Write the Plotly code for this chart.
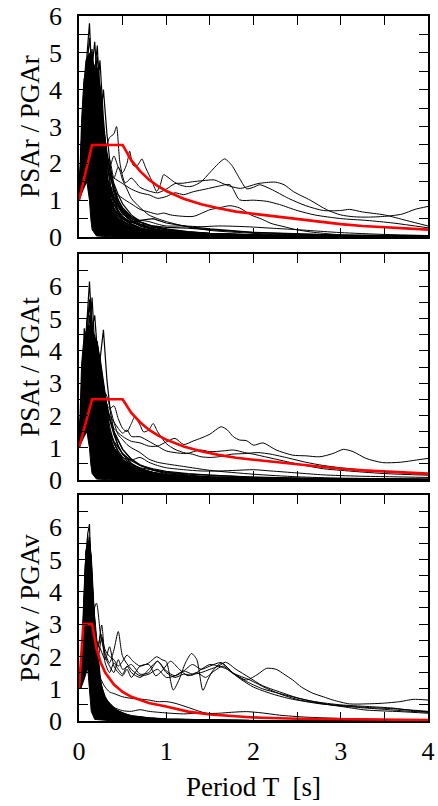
import plotly.graph_objects as go

FONT = "Liberation Serif, Times New Roman, serif"

# ---- design spectra (red) ----
red_T_h = [0, 0.15, 0.5, 0.6, 0.7, 0.8, 0.9, 1.0, 1.2, 1.4, 1.6, 1.8, 2.0, 2.25, 2.5, 2.75, 3.0, 3.25, 3.5, 3.75, 4.0]
red_v_h = [1, 2.5, 2.5, 2.08, 1.79, 1.56, 1.39, 1.25, 1.04, 0.89, 0.78, 0.69, 0.63, 0.56, 0.5, 0.41, 0.35, 0.30, 0.26, 0.22, 0.2]
red_T_v = [0, 0.05, 0.15, 0.2, 0.25, 0.3, 0.4, 0.5, 0.6, 0.8, 1.0, 1.25, 1.5, 2.0, 2.5, 3.0, 3.5, 4.0]
red_v_v = [1, 3, 3, 2.25, 1.8, 1.5, 1.13, 0.9, 0.75, 0.56, 0.45, 0.29, 0.2, 0.11, 0.07, 0.05, 0.04, 0.03]

# ---- dense cores of overlapping records (solid black in the figure) ----
core_r_upT = [0.0, 0.01, 0.03, 0.05, 0.08, 0.12, 0.2, 0.25, 0.28, 0.3, 0.34, 0.39, 0.5, 0.66, 0.9, 1.3]
core_r_up = [1.0, 1.8, 3.2, 4.0, 4.8, 5.0, 4.5, 4.0, 3.0, 2.3, 1.37, 0.65, 0.35, 0.2, 0.08, 0.03]
core_r_loT = [0.0, 0.05, 0.09, 0.12, 0.135, 0.15, 0.2, 0.4, 1.3]
core_r_lo = [1.0, 1.3, 1.5, 1.0, 0.5, 0.2, 0.03, 0.0, 0.0]

core_t_upT = [0.0, 0.01, 0.03, 0.05, 0.08, 0.12, 0.16, 0.22, 0.26, 0.3, 0.34, 0.38, 0.5, 0.7, 1.0, 1.4]
core_t_up = [1.0, 2.0, 3.6, 4.2, 4.6, 4.8, 4.6, 4.1, 3.4, 2.6, 1.7, 1.1, 0.55, 0.25, 0.1, 0.04]
core_t_loT = [0.0, 0.05, 0.09, 0.12, 0.135, 0.15, 0.2, 0.4, 1.4]
core_t_lo = [1.0, 1.3, 1.5, 1.0, 0.5, 0.2, 0.03, 0.0, 0.0]

core_v_upT = [0.02, 0.03, 0.05, 0.07, 0.09, 0.12, 0.14, 0.16, 0.2, 0.25, 0.3, 0.43, 0.6, 1.0, 1.5]
core_v_up = [1.0, 2.0, 3.5, 4.8, 5.4, 5.6, 5.0, 3.8, 2.6, 1.2, 0.7, 0.34, 0.15, 0.05, 0.02]
core_v_loT = [0.02, 0.06, 0.1, 0.12, 0.14, 0.18, 0.4, 1.5]
core_v_lo = [1.0, 1.3, 1.64, 0.9, 0.3, 0.05, 0.0, 0.0]

# ---- panel 1: PSAr / PGAr ----
grid_r = [0, .03, .06, .09, .12, .15, .18, .21, .24, .28, .32, .36, .40, .45, .50, .60, .70, .85, 1.0, 1.25, 1.5, 2.0, 2.5, 3.0, 4.0]
short_r = [
    [1, 2.0, 3.4, 4.9, 5.8, 4.2, 3.1, 2.2, 1.6, 1.1, 0.8, 0.6, 0.45, 0.35, 0.28, 0.18, 0.12, 0.08, 0.05, 0.03, 0.02, 0.01, 0.01, 0.01, 0.0],
    [1, 1.7, 2.6, 3.2, 4.6, 5.1, 3.8, 2.6, 1.9, 1.3, 0.9, 0.7, 0.55, 0.4, 0.3, 0.2, 0.14, 0.09, 0.06, 0.04, 0.03, 0.02, 0.01, 0.01, 0.0],
    [1, 2.3, 3.6, 4.2, 3.6, 4.4, 3.2, 2.0, 1.4, 1.0, 0.7, 0.5, 0.4, 0.3, 0.22, 0.15, 0.1, 0.07, 0.05, 0.03, 0.02, 0.01, 0.01, 0.0, 0.0],
    [1, 1.8, 2.9, 3.6, 4.8, 3.9, 4.5, 5.2, 3.6, 2.4, 1.6, 1.1, 0.8, 0.6, 0.45, 0.3, 0.2, 0.13, 0.09, 0.06, 0.04, 0.02, 0.02, 0.01, 0.01],
    [1, 2.1, 2.9, 3.1, 3.9, 4.3, 3.7, 4.0, 4.8, 3.2, 2.1, 1.4, 1.0, 0.7, 0.55, 0.35, 0.25, 0.16, 0.11, 0.07, 0.05, 0.03, 0.02, 0.01, 0.01],
    [1, 1.6, 2.3, 2.4, 3.3, 4.0, 3.4, 3.9, 3.1, 4.0, 2.8, 1.9, 1.3, 0.9, 0.7, 0.45, 0.3, 0.2, 0.14, 0.09, 0.06, 0.03, 0.02, 0.01, 0.01],
    [1, 2.6, 4.2, 4.4, 3.2, 2.5, 1.8, 1.3, 0.9, 0.6, 0.45, 0.35, 0.28, 0.2, 0.15, 0.1, 0.07, 0.05, 0.03, 0.02, 0.01, 0.01, 0.0, 0.0, 0.0],
    [1, 1.9, 2.7, 2.9, 3.8, 3.2, 2.9, 3.5, 2.7, 1.9, 1.5, 1.2, 0.9, 0.65, 0.5, 0.33, 0.22, 0.15, 0.1, 0.06, 0.04, 0.02, 0.01, 0.01, 0.0],
    [1, 1.5, 2.1, 2.0, 2.8, 3.5, 4.1, 3.3, 2.6, 2.9, 2.2, 1.7, 1.2, 0.9, 0.65, 0.42, 0.3, 0.19, 0.13, 0.08, 0.05, 0.03, 0.02, 0.01, 0.01],
    [1, 2.0, 3.0, 3.3, 4.2, 4.7, 3.5, 2.4, 2.8, 2.0, 1.3, 0.95, 0.7, 0.5, 0.38, 0.25, 0.17, 0.11, 0.08, 0.05, 0.03, 0.02, 0.01, 0.01, 0.0],
    [1, 1.7, 2.5, 2.7, 3.4, 3.0, 3.6, 2.8, 2.1, 1.6, 1.2, 1.0, 0.85, 0.7, 0.55, 0.4, 0.32, 0.25, 0.2, 0.14, 0.1, 0.06, 0.04, 0.03, 0.02],
    [1, 2.2, 3.3, 3.7, 4.1, 3.4, 2.6, 1.9, 1.5, 1.3, 1.1, 0.9, 0.75, 0.62, 0.5, 0.4, 0.35, 0.3, 0.26, 0.24, 0.2, 0.12, 0.08, 0.05, 0.03],
    [1, 1.8, 2.7, 3.0, 3.7, 4.3, 3.8, 3.0, 2.3, 1.8, 1.5, 1.3, 1.1, 0.9, 0.75, 0.55, 0.45, 0.5, 0.38, 0.28, 0.22, 0.13, 0.08, 0.05, 0.03],
    [1, 2.5, 3.8, 3.9, 3.3, 2.7, 2.3, 1.9, 1.7, 1.5, 1.35, 1.2, 1.0, 0.85, 0.7, 0.5, 0.4, 0.3, 0.22, 0.15, 0.1, 0.06, 0.04, 0.03, 0.02],
    [1, 1.5, 2.2, 2.2, 2.9, 3.6, 4.4, 3.9, 3.3, 2.6, 2.0, 1.6, 1.3, 1.0, 0.8, 0.55, 0.4, 0.28, 0.2, 0.13, 0.09, 0.05, 0.03, 0.02, 0.01],
    [1, 2.0, 3.2, 3.5, 4.5, 5.0, 4.1, 3.2, 2.4, 1.7, 1.2, 0.9, 0.65, 0.48, 0.36, 0.24, 0.16, 0.1, 0.07, 0.05, 0.03, 0.02, 0.01, 0.01, 0.0],
    [1, 1.4, 2.0, 1.9, 2.6, 3.2, 3.9, 4.6, 3.8, 3.0, 2.3, 1.8, 1.4, 1.0, 0.75, 0.5, 0.35, 0.22, 0.15, 0.1, 0.06, 0.04, 0.02, 0.01, 0.01],
    [1, 2.4, 3.8, 4.6, 5.4, 4.6, 3.3, 2.3, 1.7, 1.2, 0.9, 0.7, 0.55, 0.42, 0.32, 0.2, 0.14, 0.09, 0.06, 0.04, 0.03, 0.02, 0.01, 0.01, 0.0],
    [1, 2.8, 4.3, 3.0, 3.8, 3.3, 2.7, 2.1, 1.6, 1.2, 0.95, 0.75, 0.6, 0.48, 0.4, 0.3, 0.23, 0.17, 0.12, 0.08, 0.06, 0.03, 0.02, 0.01, 0.01],
    [1, 1.8, 2.6, 3.1, 4.0, 4.6, 5.3, 4.2, 3.1, 2.2, 1.5, 1.05, 0.75, 0.55, 0.42, 0.28, 0.2, 0.13, 0.09, 0.06, 0.04, 0.02, 0.01, 0.01, 0.0],
    [1, 2.2, 3.3, 3.4, 3.0, 3.7, 3.1, 2.6, 2.2, 1.8, 1.5, 1.25, 1.0, 0.8, 0.62, 0.44, 0.32, 0.22, 0.15, 0.1, 0.07, 0.04, 0.02, 0.01, 0.01],
    [1, 1.6, 2.3, 2.5, 3.1, 3.8, 4.3, 4.9, 4.1, 2.9, 2.0, 1.4, 1.0, 0.72, 0.55, 0.36, 0.25, 0.16, 0.11, 0.07, 0.05, 0.03, 0.02, 0.01, 0.01],
    [1, 2.6, 3.9, 2.6, 3.4, 2.8, 2.2, 1.7, 1.3, 0.95, 0.7, 0.52, 0.4, 0.3, 0.23, 0.15, 0.1, 0.07, 0.05, 0.03, 0.02, 0.01, 0.01, 0.0, 0.0],
    [1, 2.0, 2.9, 3.0, 3.6, 4.0, 3.5, 3.0, 3.4, 2.7, 2.2, 1.8, 1.45, 1.15, 0.9, 0.6, 0.42, 0.28, 0.19, 0.12, 0.08, 0.04, 0.03, 0.02, 0.01],
    [1, 2.4, 4.0, 4.6, 4.0, 3.4, 2.6, 1.9, 1.4, 1.0, 0.75, 0.58, 0.46, 0.36, 0.28, 0.19, 0.13, 0.09, 0.06, 0.04, 0.03, 0.02, 0.01, 0.01, 0.0],
    [1, 1.7, 2.6, 2.8, 3.6, 3.2, 3.9, 3.3, 2.5, 1.9, 1.6, 1.35, 1.1, 0.85, 0.65, 0.45, 0.33, 0.23, 0.17, 0.12, 0.09, 0.05, 0.03, 0.02, 0.01],
]
long_r = [
    ([0, 0.05, 0.1, 0.15, 0.2, 0.25, 0.3, 0.35, 0.4, 0.45, 0.5, 0.55, 0.58, 0.62, 0.66, 0.7, 0.72, 0.77, 0.83, 0.89, 0.93, 0.97, 1.02, 1.08, 1.15, 1.23, 1.3, 1.4, 1.5, 1.6, 1.67, 1.75, 1.85, 1.92, 2.0, 2.07, 2.2, 2.4, 2.6, 2.8, 3.0, 3.1, 3.25, 3.5, 3.75, 4.0],
     [1, 2.0, 3.9, 3.2, 2.8, 2.5, 2.1, 1.9, 2.2, 1.9, 1.75, 2.0, 2.33, 1.95, 1.92, 2.05, 2.12, 1.85, 1.55, 1.24, 1.4, 1.69, 1.62, 1.51, 1.42, 1.37, 1.38, 1.5, 1.75, 2.0, 2.12, 1.95, 1.55, 1.31, 1.35, 1.42, 1.3, 1.05, 0.85, 0.72, 0.72, 0.75, 0.68, 0.6, 0.45, 0.3]),
    ([0, 0.05, 0.1, 0.15, 0.2, 0.25, 0.3, 0.35, 0.4, 0.43, 0.47, 0.53, 0.6, 0.7, 0.8, 0.9, 1.0, 1.1, 1.19, 1.3, 1.42, 1.55, 1.65, 1.73, 1.85, 1.95, 2.05, 2.15, 2.25, 2.35, 2.46, 2.65, 2.84, 3.0, 3.15, 3.3, 3.5, 3.7, 3.85, 4.0],
     [1, 1.8, 3.4, 4.0, 3.3, 2.6, 2.4, 2.7, 2.8, 3.0, 2.0, 1.47, 1.6, 1.35, 1.25, 1.2, 1.3, 1.45, 1.46, 1.5, 1.53, 1.55, 1.45, 1.38, 1.32, 1.38, 1.45, 1.48, 1.49, 1.42, 1.23, 1.0, 0.74, 0.6, 0.55, 0.54, 0.56, 0.62, 0.75, 0.83]),
    ([0, 0.05, 0.1, 0.15, 0.2, 0.25, 0.3, 0.35, 0.4, 0.5, 0.6, 0.7, 0.81, 0.9, 1.0, 1.1, 1.2, 1.31, 1.45, 1.6, 1.73, 1.84, 2.0, 2.15, 2.3, 2.5, 2.7, 3.0, 3.3, 3.6, 4.0],
     [1, 1.5, 2.9, 3.6, 3.0, 2.3, 1.9, 1.7, 1.6, 1.45, 1.3, 1.2, 1.14, 1.05, 1.1, 1.2, 1.15, 1.23, 1.3, 1.38, 1.42, 1.01, 1.0, 0.97, 0.88, 0.72, 0.6, 0.5, 0.45, 0.38, 0.25]),
    ([0, 0.05, 0.1, 0.15, 0.2, 0.25, 0.3, 0.4, 0.5, 0.6, 0.7, 0.8, 0.9, 0.97, 1.05, 1.15, 1.31, 1.5, 1.62, 1.73, 1.84, 1.97, 2.1, 2.2, 2.35, 2.49, 2.65, 2.8, 3.0, 3.5, 4.0],
     [1, 1.6, 3.0, 3.3, 2.6, 2.0, 1.6, 1.25, 1.05, 0.9, 0.75, 0.68, 0.62, 0.65, 0.6, 0.57, 0.56, 0.74, 0.8, 0.85, 0.79, 0.6, 0.48, 0.37, 0.28, 0.2, 0.14, 0.1, 0.06, 0.03, 0.02]),
    ([0, 0.05, 0.1, 0.15, 0.2, 0.3, 0.4, 0.5, 0.6, 0.7, 0.8, 0.9, 1.0, 1.2, 1.4, 1.6, 1.8, 2.0, 2.2, 2.5, 2.8, 3.0, 3.5, 4.0],
     [1, 1.5, 2.7, 3.1, 2.2, 1.2, 0.7, 0.48, 0.4, 0.45, 0.42, 0.35, 0.3, 0.3, 0.28, 0.3, 0.29, 0.27, 0.24, 0.2, 0.15, 0.12, 0.07, 0.04]),
    ([0, 0.05, 0.1, 0.15, 0.2, 0.25, 0.3, 0.35, 0.4, 0.45, 0.5, 0.55, 0.6, 0.7, 0.8, 0.9, 1.0, 1.2, 1.5, 2.0, 2.5, 3.0, 4.0],
     [1, 1.7, 3.1, 2.8, 2.4, 2.0, 1.75, 2.1, 1.6, 1.9, 1.55, 1.3, 1.05, 0.8, 0.6, 0.5, 0.42, 0.3, 0.18, 0.1, 0.06, 0.04, 0.02]),
]

# ---- panel 2: PSAt / PGAt ----
grid_t = grid_r
short_t = [
    [1, 2.1, 3.6, 4.8, 6.15, 4.6, 3.2, 2.3, 1.6, 1.1, 0.8, 0.6, 0.45, 0.35, 0.27, 0.18, 0.12, 0.08, 0.05, 0.03, 0.02, 0.01, 0.01, 0.0, 0.0],
    [1, 2.6, 4.7, 3.6, 4.2, 3.5, 2.6, 1.9, 1.4, 1.0, 0.75, 0.55, 0.42, 0.32, 0.25, 0.16, 0.11, 0.07, 0.05, 0.03, 0.02, 0.01, 0.0, 0.0, 0.0],
    [1, 1.9, 3.0, 3.8, 4.5, 5.65, 4.1, 3.0, 2.2, 1.5, 1.1, 0.8, 0.6, 0.45, 0.35, 0.22, 0.15, 0.1, 0.07, 0.04, 0.03, 0.02, 0.01, 0.01, 0.0],
    [1, 1.7, 2.6, 3.0, 3.8, 3.4, 3.9, 4.2, 3.7, 4.65, 3.1, 2.1, 1.5, 1.05, 0.8, 0.5, 0.34, 0.22, 0.15, 0.09, 0.06, 0.03, 0.02, 0.01, 0.01],
    [1, 2.3, 3.7, 4.3, 3.9, 4.4, 3.6, 2.7, 2.0, 1.45, 1.05, 0.8, 0.62, 0.48, 0.38, 0.26, 0.18, 0.12, 0.08, 0.05, 0.03, 0.02, 0.01, 0.01, 0.0],
    [1, 2.0, 3.2, 4.0, 5.1, 4.3, 3.3, 2.5, 1.9, 1.4, 1.0, 0.75, 0.55, 0.4, 0.3, 0.2, 0.13, 0.09, 0.06, 0.04, 0.02, 0.01, 0.01, 0.0, 0.0],
    [1, 1.6, 2.4, 2.6, 3.5, 4.1, 3.7, 4.3, 3.3, 2.5, 1.8, 1.3, 0.95, 0.7, 0.52, 0.34, 0.23, 0.15, 0.1, 0.06, 0.04, 0.02, 0.01, 0.01, 0.0],
    [1, 2.4, 3.9, 4.1, 3.3, 2.6, 2.0, 1.6, 1.3, 1.0, 0.8, 0.65, 0.52, 0.4, 0.32, 0.22, 0.15, 0.1, 0.07, 0.04, 0.03, 0.02, 0.01, 0.0, 0.0],
    [1, 1.8, 2.9, 3.4, 4.4, 3.8, 3.2, 3.6, 2.9, 2.2, 1.7, 1.3, 1.0, 0.8, 0.62, 0.42, 0.3, 0.2, 0.14, 0.09, 0.06, 0.03, 0.02, 0.01, 0.01],
    [1, 2.1, 3.4, 3.7, 4.0, 4.8, 3.7, 2.8, 2.1, 1.6, 1.3, 1.05, 0.85, 0.68, 0.55, 0.4, 0.3, 0.22, 0.16, 0.11, 0.08, 0.05, 0.03, 0.02, 0.01],
    [1, 1.6, 2.5, 2.8, 3.4, 3.9, 4.5, 3.5, 2.8, 2.1, 1.6, 1.25, 1.0, 0.78, 0.6, 0.4, 0.28, 0.18, 0.12, 0.08, 0.05, 0.03, 0.02, 0.01, 0.01],
    [1, 2.0, 3.1, 3.3, 3.9, 3.1, 2.5, 2.0, 1.7, 1.45, 1.25, 1.05, 0.9, 0.75, 0.62, 0.48, 0.38, 0.3, 0.24, 0.18, 0.14, 0.08, 0.05, 0.03, 0.02],
    [1, 1.8, 2.8, 3.1, 3.9, 4.4, 3.5, 2.7, 2.4, 2.0, 1.7, 1.45, 1.2, 1.0, 0.82, 0.6, 0.45, 0.35, 0.27, 0.2, 0.15, 0.09, 0.06, 0.04, 0.02],
    [1, 2.6, 4.1, 4.5, 3.6, 2.9, 2.3, 1.8, 1.45, 1.15, 0.9, 0.7, 0.55, 0.42, 0.33, 0.22, 0.15, 0.1, 0.07, 0.04, 0.03, 0.02, 0.01, 0.0, 0.0],
    [1, 1.5, 2.2, 2.4, 3.2, 3.9, 4.0, 3.4, 3.8, 3.0, 2.3, 1.8, 1.4, 1.05, 0.8, 0.52, 0.36, 0.23, 0.16, 0.1, 0.07, 0.04, 0.02, 0.01, 0.01],
    [1, 2.2, 3.6, 4.4, 5.6, 4.9, 3.6, 2.6, 1.9, 1.35, 0.95, 0.7, 0.52, 0.38, 0.28, 0.18, 0.12, 0.08, 0.05, 0.03, 0.02, 0.01, 0.01, 0.0, 0.0],
    [1, 1.8, 2.7, 3.0, 3.7, 3.3, 3.0, 2.6, 2.3, 2.6, 2.2, 1.8, 1.5, 1.2, 0.95, 0.65, 0.47, 0.32, 0.23, 0.15, 0.1, 0.06, 0.04, 0.03, 0.02],
    [1, 2.3, 3.9, 4.9, 5.4, 4.0, 2.9, 2.1, 1.5, 1.05, 0.75, 0.55, 0.42, 0.32, 0.25, 0.16, 0.1, 0.07, 0.05, 0.03, 0.02, 0.01, 0.0, 0.0, 0.0],
    [1, 2.7, 4.3, 3.2, 3.9, 3.4, 2.8, 2.2, 1.7, 1.3, 1.0, 0.8, 0.64, 0.5, 0.4, 0.28, 0.2, 0.14, 0.1, 0.06, 0.04, 0.02, 0.01, 0.01, 0.0],
    [1, 1.8, 2.7, 3.2, 4.1, 4.7, 5.1, 4.0, 3.0, 2.2, 1.6, 1.2, 0.9, 0.66, 0.5, 0.33, 0.23, 0.15, 0.1, 0.06, 0.04, 0.02, 0.01, 0.01, 0.0],
    [1, 2.1, 3.3, 3.5, 3.1, 3.6, 3.0, 2.5, 2.1, 1.75, 1.45, 1.2, 0.98, 0.78, 0.62, 0.44, 0.32, 0.22, 0.15, 0.1, 0.07, 0.04, 0.02, 0.01, 0.01],
    [1, 1.6, 2.4, 2.6, 3.3, 3.9, 4.4, 4.1, 3.5, 2.8, 2.1, 1.55, 1.15, 0.85, 0.64, 0.42, 0.29, 0.19, 0.13, 0.08, 0.05, 0.03, 0.02, 0.01, 0.01],
    [1, 2.5, 3.9, 2.9, 3.5, 2.9, 2.3, 1.8, 1.4, 1.05, 0.8, 0.6, 0.46, 0.35, 0.27, 0.18, 0.12, 0.08, 0.05, 0.03, 0.02, 0.01, 0.01, 0.0, 0.0],
    [1, 2.0, 2.9, 3.1, 3.7, 4.2, 3.6, 3.1, 3.5, 2.8, 2.3, 1.85, 1.5, 1.2, 0.95, 0.64, 0.45, 0.3, 0.2, 0.13, 0.09, 0.05, 0.03, 0.02, 0.01],
    [1, 2.3, 4.0, 4.7, 4.1, 3.5, 2.7, 2.0, 1.5, 1.1, 0.82, 0.62, 0.48, 0.37, 0.29, 0.2, 0.14, 0.09, 0.06, 0.04, 0.03, 0.02, 0.01, 0.01, 0.0],
    [1, 1.7, 2.6, 2.9, 3.7, 3.3, 4.0, 3.4, 2.6, 2.0, 1.65, 1.4, 1.15, 0.9, 0.7, 0.48, 0.35, 0.24, 0.17, 0.12, 0.09, 0.05, 0.03, 0.02, 0.01],
]
long_t = [
    ([0, 0.05, 0.1, 0.15, 0.2, 0.25, 0.3, 0.35, 0.4, 0.5, 0.6, 0.7, 0.8, 0.9, 1.0, 1.1, 1.2, 1.31, 1.4, 1.5, 1.63, 1.7, 1.77, 1.84, 1.92, 2.0, 2.11, 2.26, 2.45, 2.6, 2.76, 2.91, 3.03, 3.14, 3.29, 3.48, 3.68, 3.87, 4.0],
     [1, 1.6, 3.5, 4.2, 3.4, 2.6, 2.2, 1.9, 1.6, 1.35, 1.2, 1.15, 1.05, 1.05, 1.18, 1.29, 1.1, 1.21, 1.3, 1.42, 1.65, 1.55, 1.34, 1.24, 1.22, 1.08, 1.15, 0.93, 0.77, 0.75, 0.72, 0.82, 0.95, 0.88, 0.67, 0.54, 0.55, 0.62, 0.67]),
    ([0, 0.05, 0.1, 0.15, 0.2, 0.25, 0.3, 0.35, 0.4, 0.45, 0.5, 0.55, 0.6, 0.64, 0.7, 0.74, 0.8, 0.85, 0.9, 1.0, 1.1, 1.2, 1.3, 1.4, 1.5, 1.6, 1.75, 1.9, 2.05, 2.2, 2.4, 2.6, 2.8, 3.0, 3.3, 3.6, 4.0],
     [1, 1.7, 3.8, 4.6, 3.5, 3.0, 2.5, 2.2, 2.3, 1.9, 1.6, 1.5, 1.75, 1.96, 1.7, 1.49, 1.55, 1.75, 1.5, 1.13, 0.95, 0.85, 0.8, 0.72, 0.7, 0.72, 0.8, 0.82, 0.85, 0.8, 0.68, 0.55, 0.45, 0.38, 0.3, 0.24, 0.18]),
    ([0, 0.05, 0.1, 0.15, 0.2, 0.25, 0.3, 0.35, 0.4, 0.45, 0.5, 0.55, 0.6, 0.7, 0.8, 0.9, 1.0, 1.1, 1.23, 1.39, 1.5, 1.65, 1.77, 1.9, 2.0, 2.2, 2.5, 2.8, 3.0, 3.5, 4.0],
     [1, 1.5, 3.2, 3.9, 3.0, 2.6, 2.3, 2.0, 1.8, 1.6, 1.45, 1.55, 1.35, 1.34, 1.2, 1.05, 0.9, 0.85, 0.82, 0.93, 0.88, 0.9, 0.93, 0.85, 0.8, 0.68, 0.5, 0.35, 0.3, 0.2, 0.15]),
    ([0, 0.05, 0.1, 0.15, 0.2, 0.25, 0.3, 0.4, 0.5, 0.6, 0.7, 0.8, 0.9, 1.0, 1.2, 1.4, 1.6, 1.8, 2.0, 2.2, 2.5, 2.8, 3.2, 3.6, 4.0],
     [1, 1.6, 3.0, 3.4, 2.7, 2.0, 1.5, 1.0, 0.7, 0.62, 0.7, 0.55, 0.45, 0.38, 0.32, 0.28, 0.28, 0.3, 0.32, 0.28, 0.22, 0.16, 0.12, 0.1, 0.08]),
    ([0, 0.05, 0.1, 0.15, 0.2, 0.25, 0.3, 0.35, 0.4, 0.45, 0.5, 0.55, 0.6, 0.7, 0.8, 0.9, 1.0, 1.2, 1.5, 2.0, 2.5, 3.0, 4.0],
     [1, 1.8, 3.6, 3.1, 2.8, 2.4, 2.7, 2.3, 1.8, 1.4, 1.25, 1.1, 1.0, 0.85, 0.65, 0.55, 0.5, 0.42, 0.3, 0.18, 0.1, 0.06, 0.03]),
]

# ---- panel 3: PSAv / PGAv ----
grid_v = [0, .02, .04, .06, .08, .1, .12, .14, .16, .18, .2, .23, .26, .3, .35, .4, .5, .6, .8, 1.0, 1.3, 1.7, 2.2, 3.0, 4.0]
short_v = [
    [1, 1.1, 1.6, 2.8, 4.4, 5.8, 6.1, 4.2, 2.6, 1.6, 1.0, 0.6, 0.4, 0.26, 0.17, 0.12, 0.07, 0.05, 0.03, 0.02, 0.01, 0.01, 0.0, 0.0, 0.0],
    [1, 1.2, 1.9, 3.2, 5.0, 5.6, 4.4, 3.0, 1.9, 1.2, 0.8, 0.5, 0.33, 0.22, 0.15, 0.1, 0.06, 0.04, 0.02, 0.01, 0.01, 0.0, 0.0, 0.0, 0.0],
    [1, 1.1, 1.5, 2.4, 3.7, 5.1, 5.7, 5.0, 3.4, 2.2, 1.4, 0.85, 0.55, 0.35, 0.22, 0.15, 0.09, 0.06, 0.03, 0.02, 0.01, 0.01, 0.0, 0.0, 0.0],
    [1, 1.3, 2.2, 3.6, 4.8, 4.2, 5.3, 3.6, 2.3, 1.5, 1.0, 0.65, 0.45, 0.3, 0.2, 0.14, 0.08, 0.05, 0.03, 0.02, 0.01, 0.0, 0.0, 0.0, 0.0],
    [1, 1.1, 1.7, 2.9, 4.1, 4.9, 4.5, 3.8, 3.0, 2.0, 1.3, 0.8, 0.5, 0.33, 0.22, 0.15, 0.09, 0.06, 0.03, 0.02, 0.01, 0.01, 0.0, 0.0, 0.0],
    [1, 1.2, 2.0, 3.3, 4.5, 5.4, 4.0, 2.6, 1.7, 1.1, 0.75, 0.48, 0.32, 0.21, 0.14, 0.1, 0.06, 0.04, 0.02, 0.01, 0.01, 0.0, 0.0, 0.0, 0.0],
    [1, 1.1, 1.4, 2.1, 3.2, 4.4, 5.2, 4.6, 3.5, 2.6, 1.8, 1.1, 0.7, 0.45, 0.28, 0.19, 0.11, 0.07, 0.04, 0.02, 0.01, 0.01, 0.0, 0.0, 0.0],
    [1, 1.2, 1.8, 3.0, 4.2, 4.6, 3.9, 2.9, 2.0, 1.4, 1.0, 0.7, 0.5, 0.35, 0.25, 0.18, 0.11, 0.08, 0.05, 0.03, 0.02, 0.01, 0.01, 0.0, 0.0],
    [1, 1.2, 2.1, 3.4, 4.7, 5.0, 3.7, 2.5, 1.6, 1.05, 0.7, 0.45, 0.3, 0.2, 0.13, 0.09, 0.05, 0.03, 0.02, 0.01, 0.0, 0.0, 0.0, 0.0, 0.0],
    [1, 1.1, 1.6, 2.6, 3.9, 4.7, 5.5, 4.3, 3.1, 2.1, 1.5, 1.0, 0.7, 0.48, 0.32, 0.22, 0.13, 0.09, 0.05, 0.03, 0.02, 0.01, 0.01, 0.0, 0.0],
    [1, 1.3, 2.3, 3.7, 4.4, 3.8, 4.6, 4.0, 3.2, 2.4, 1.7, 1.1, 0.75, 0.5, 0.34, 0.24, 0.15, 0.1, 0.06, 0.04, 0.02, 0.01, 0.01, 0.0, 0.0],
    [1, 1.2, 1.8, 2.9, 4.0, 4.4, 4.1, 3.5, 2.7, 2.1, 1.6, 1.2, 0.9, 0.65, 0.45, 0.32, 0.2, 0.14, 0.08, 0.05, 0.03, 0.02, 0.01, 0.01, 0.0],
    [1, 1.1, 1.5, 2.3, 3.5, 4.8, 5.6, 4.8, 3.8, 2.8, 2.0, 1.3, 0.85, 0.55, 0.36, 0.25, 0.15, 0.1, 0.06, 0.04, 0.02, 0.01, 0.01, 0.0, 0.0],
    [1, 1.2, 1.9, 3.1, 4.3, 5.2, 4.3, 3.1, 2.1, 1.4, 0.95, 0.62, 0.42, 0.28, 0.18, 0.13, 0.08, 0.05, 0.03, 0.02, 0.01, 0.0, 0.0, 0.0, 0.0],
    [1, 1.15, 1.7, 2.7, 3.8, 4.5, 4.9, 4.2, 3.3, 2.5, 1.9, 1.3, 0.95, 0.68, 0.48, 0.35, 0.22, 0.15, 0.09, 0.06, 0.04, 0.02, 0.01, 0.01, 0.0],
    [1, 1.2, 2.0, 3.5, 5.2, 5.75, 4.6, 3.2, 2.1, 1.35, 0.9, 0.56, 0.37, 0.24, 0.16, 0.11, 0.06, 0.04, 0.02, 0.01, 0.01, 0.0, 0.0, 0.0, 0.0],
    [1, 1.1, 1.6, 2.5, 3.6, 4.3, 4.8, 4.5, 3.7, 2.9, 2.2, 1.5, 1.05, 0.75, 0.52, 0.38, 0.24, 0.17, 0.1, 0.07, 0.04, 0.02, 0.01, 0.01, 0.0],
    [1, 1.3, 2.4, 3.9, 5.3, 4.5, 3.4, 2.4, 1.7, 1.2, 0.85, 0.55, 0.38, 0.26, 0.18, 0.13, 0.08, 0.05, 0.03, 0.02, 0.01, 0.01, 0.0, 0.0, 0.0],
    [1, 1.3, 2.5, 4.0, 5.0, 4.3, 3.2, 2.3, 1.6, 1.1, 0.78, 0.5, 0.34, 0.23, 0.15, 0.11, 0.06, 0.04, 0.02, 0.01, 0.01, 0.0, 0.0, 0.0, 0.0],
    [1, 1.1, 1.5, 2.2, 3.3, 4.5, 5.4, 5.1, 4.0, 2.9, 2.0, 1.25, 0.8, 0.5, 0.32, 0.22, 0.13, 0.08, 0.04, 0.03, 0.01, 0.01, 0.0, 0.0, 0.0],
    [1, 1.2, 1.8, 2.9, 4.1, 4.8, 5.0, 4.4, 3.6, 2.7, 1.9, 1.2, 0.8, 0.52, 0.34, 0.24, 0.14, 0.09, 0.05, 0.03, 0.02, 0.01, 0.0, 0.0, 0.0],
    [1, 1.2, 2.0, 3.4, 4.6, 5.1, 4.4, 3.4, 2.4, 1.6, 1.1, 0.7, 0.47, 0.31, 0.2, 0.14, 0.08, 0.05, 0.03, 0.02, 0.01, 0.0, 0.0, 0.0, 0.0],
    [1, 1.1, 1.6, 2.6, 3.8, 4.6, 4.2, 4.7, 3.9, 3.0, 2.2, 1.5, 1.0, 0.66, 0.43, 0.3, 0.18, 0.12, 0.07, 0.04, 0.02, 0.01, 0.01, 0.0, 0.0],
    [1, 1.3, 2.2, 3.6, 4.9, 5.3, 4.0, 2.8, 1.9, 1.3, 0.9, 0.6, 0.4, 0.27, 0.18, 0.12, 0.07, 0.05, 0.03, 0.02, 0.01, 0.0, 0.0, 0.0, 0.0],
    [1, 1.15, 1.7, 2.8, 4.0, 5.0, 5.5, 4.7, 3.6, 2.6, 1.8, 1.15, 0.75, 0.48, 0.31, 0.22, 0.13, 0.08, 0.05, 0.03, 0.02, 0.01, 0.0, 0.0, 0.0],
    [1, 1.2, 1.9, 3.0, 4.2, 4.5, 4.3, 3.8, 3.1, 2.4, 1.8, 1.3, 0.95, 0.68, 0.47, 0.34, 0.21, 0.14, 0.08, 0.05, 0.03, 0.02, 0.01, 0.0, 0.0],
]
long_v = [
    ([0, 0.03, 0.06, 0.09, 0.12, 0.15, 0.18, 0.22, 0.26, 0.3, 0.35, 0.4, 0.45, 0.5, 0.55, 0.6, 0.7, 0.8, 0.9, 1.0, 1.1, 1.2, 1.3, 1.4, 1.5, 1.63, 1.77, 1.92, 2.05, 2.15, 2.26, 2.35, 2.45, 2.55, 2.68, 2.8, 2.91, 3.1, 3.29, 3.48, 3.68, 3.83, 4.0],
     [1, 1.3, 2.5, 4.2, 5.2, 3.6, 2.4, 2.0, 2.6, 1.8, 1.5, 1.8, 1.6, 1.45, 1.7, 1.5, 1.35, 1.6, 1.85, 1.55, 1.4, 1.55, 1.75, 1.6, 1.7, 1.81, 1.48, 1.27, 1.45, 1.63, 1.6, 1.45, 1.27, 1.05, 0.86, 0.75, 0.65, 0.53, 0.53, 0.55, 0.6, 0.67, 0.65]),
    ([0, 0.03, 0.06, 0.09, 0.12, 0.15, 0.18, 0.21, 0.25, 0.3, 0.35, 0.4, 0.45, 0.5, 0.55, 0.62, 0.7, 0.8, 0.89, 0.95, 1.0, 1.08, 1.15, 1.22, 1.29, 1.35, 1.42, 1.48, 1.54, 1.63, 1.77, 1.96, 2.15, 2.34, 2.53, 2.75, 3.03, 3.29, 3.68, 4.0],
     [1, 1.2, 2.2, 3.6, 4.8, 3.4, 2.6, 2.2, 2.7, 2.2, 2.0, 1.9, 1.7, 1.85, 2.04, 1.85, 1.7, 1.8, 1.99, 1.9, 1.84, 0.96, 1.3, 1.8, 2.09, 1.9, 0.95, 1.3, 1.58, 1.79, 1.48, 1.27, 1.01, 0.8, 0.65, 0.55, 0.44, 0.34, 0.29, 0.24]),
    ([0, 0.03, 0.06, 0.09, 0.12, 0.15, 0.18, 0.22, 0.26, 0.3, 0.35, 0.4, 0.45, 0.5, 0.6, 0.7, 0.8, 0.9, 1.0, 1.1, 1.2, 1.3, 1.4, 1.5, 1.6, 1.7, 1.85, 2.0, 2.2, 2.4, 2.6, 2.8, 3.0, 3.3, 3.6, 4.0],
     [1, 1.4, 2.8, 4.6, 5.5, 3.9, 2.8, 2.3, 2.97, 2.0, 1.7, 1.5, 1.9, 1.6, 1.75, 1.45, 1.5, 1.85, 1.5, 1.35, 1.45, 1.42, 1.6, 1.75, 1.7, 1.6, 1.3, 1.05, 0.85, 0.7, 0.6, 0.52, 0.48, 0.42, 0.38, 0.3]),
    ([0, 0.03, 0.06, 0.09, 0.12, 0.15, 0.2, 0.25, 0.3, 0.35, 0.4, 0.45, 0.5, 0.6, 0.7, 0.8, 0.9, 1.0, 1.1, 1.2, 1.3, 1.4, 1.5, 1.6, 1.68, 1.8, 1.95, 2.1, 2.3, 2.5, 2.7, 3.0, 3.3, 3.6, 3.8, 4.0],
     [1, 1.3, 2.6, 4.0, 4.9, 3.3, 3.65, 2.6, 2.1, 1.8, 2.2, 2.77, 2.0, 1.6, 1.4, 1.45, 1.6, 1.35, 1.4, 1.55, 1.45, 1.5, 1.6, 1.7, 1.82, 1.6, 1.35, 1.1, 0.9, 0.72, 0.6, 0.5, 0.45, 0.4, 0.33, 0.28]),
    ([0, 0.03, 0.06, 0.09, 0.12, 0.15, 0.2, 0.25, 0.3, 0.35, 0.4, 0.5, 0.6, 0.7, 0.8, 0.9, 1.0, 1.1, 1.25, 1.46, 1.6, 1.75, 1.92, 2.1, 2.3, 2.6, 3.0, 3.5, 4.0],
     [1, 1.3, 2.3, 3.6, 4.5, 3.0, 1.8, 1.3, 1.05, 0.9, 0.85, 0.75, 0.7, 0.68, 0.65, 0.6, 0.6, 0.55, 0.42, 0.24, 0.24, 0.27, 0.29, 0.25, 0.18, 0.12, 0.08, 0.05, 0.04]),
    ([0, 0.03, 0.06, 0.09, 0.12, 0.15, 0.2, 0.25, 0.3, 0.4, 0.5, 0.6, 0.7, 0.8, 1.0, 1.2, 1.4, 1.6, 1.8, 2.0, 2.5, 3.0, 4.0],
     [1, 1.2, 2.0, 3.3, 4.2, 2.6, 1.4, 0.9, 0.62, 0.42, 0.32, 0.3, 0.35, 0.3, 0.25, 0.22, 0.25, 0.2, 0.15, 0.12, 0.07, 0.05, 0.03]),
    ([0, 0.03, 0.06, 0.09, 0.12, 0.15, 0.2, 0.25, 0.3, 0.35, 0.4, 0.45, 0.5, 0.55, 0.6, 0.7, 0.8, 0.88, 0.95, 1.05, 1.15, 1.25, 1.35, 1.45, 1.55, 1.65, 1.75, 1.9, 2.1, 2.3, 2.6, 2.9, 3.2, 3.5, 3.8, 4.0],
     [1, 1.25, 2.4, 3.9, 5.0, 3.2, 2.5, 2.2, 1.9, 2.3, 1.7, 1.5, 1.4, 1.6, 1.35, 1.7, 1.75, 1.4, 1.55, 1.85, 1.6, 1.4, 1.5, 1.35, 1.55, 1.7, 1.5, 1.25, 1.0, 0.85, 0.65, 0.5, 0.42, 0.36, 0.3, 0.27]),
]

# tick values / labels
x_ticks = [0, 0.5, 1, 1.5, 2, 2.5, 3, 3.5, 4]
x_labels = ["0", "", "1", "", "2", "", "3", "", "4"]
y_ticks = [0, 0.5, 1, 1.5, 2, 2.5, 3, 3.5, 4, 4.5, 5, 5.5, 6, 6.5, 7]
y_labels = ["0", "", "1", "", "2", "", "3", "", "4", "", "5", "", "6", "", ""]

panels = [
    ("PSAr / PGAr", grid_r, short_r, long_r, red_T_h, red_v_h,
     (core_r_upT, core_r_up, core_r_loT, core_r_lo), 6, [0.6865, 1.0]),
    ("PSAt / PGAt", grid_t, short_t, long_t, red_T_h, red_v_h,
     (core_t_upT, core_t_up, core_t_loT, core_t_lo), 7, [0.3418, 0.6624]),
    ("PSAv / PGAv", grid_v, short_v, long_v, red_T_v, red_v_v,
     (core_v_upT, core_v_up, core_v_loT, core_v_lo), 7, [0.0, 0.3206]),
]

fig = go.Figure()
layout = {}
for i, (title, grid, shorts, longs, rT, rv, core, ymax, dom) in enumerate(panels):
    n = "" if i == 0 else str(i + 1)
    xa, ya = "x" + n, "y" + n
    upT, up, loT, lo = core
    fig.add_trace(go.Scatter(x=upT + loT[::-1], y=up + lo[::-1], mode="lines", fill="toself",
                             fillcolor="black", line=dict(color="black", width=1),
                             xaxis=xa, yaxis=ya, showlegend=False, hoverinfo="skip"))
    for vals in shorts:
        fig.add_trace(go.Scatter(x=grid, y=vals, mode="lines", xaxis=xa, yaxis=ya,
                                 line=dict(color="black", width=1.2), showlegend=False, hoverinfo="skip"))
    for T, vals in longs:
        fig.add_trace(go.Scatter(x=T, y=vals, mode="lines", xaxis=xa, yaxis=ya,
                                 line=dict(color="black", width=1, shape="spline", smoothing=0.7),
                                 showlegend=False, hoverinfo="skip"))
    fig.add_trace(go.Scatter(x=rT, y=rv, mode="lines", xaxis=xa, yaxis=ya,
                             line=dict(color="#ff0000", width=2.6), showlegend=False, hoverinfo="skip"))

    axis_common = dict(showline=True, linecolor="black", linewidth=1.6, mirror="allticks",
                       ticks="inside", ticklen=9, tickwidth=1.3, tickcolor="black",
                       showgrid=False, zeroline=False,
                       tickfont=dict(family=FONT, size=26, color="black"))
    last = i == 2
    layout["xaxis" + n] = dict(axis_common, domain=[0, 1], anchor=ya, range=[0, 4],
                               tickmode="array", tickvals=x_ticks,
                               ticktext=x_labels if last else [""] * len(x_ticks),
                               ticklabelstandoff=6)
    if last:
        layout["xaxis" + n]["title"] = dict(text="Period T\u00a0 [s]", standoff=12,
                                            font=dict(family=FONT, size=27, color="black"))
    yt = [v for v in y_ticks if v <= ymax]
    layout["yaxis" + n] = dict(axis_common, domain=dom, anchor=xa, range=[0, ymax],
                               tickmode="array", tickvals=yt, ticktext=y_labels[:len(yt)],
                               ticklabelstandoff=10,
                               title=dict(text=title, standoff=2,
                                          font=dict(family=FONT, size=27, color="black")))

fig.update_layout(
    width=438, height=806,
    margin=dict(l=79, r=10, t=16, b=85, autoexpand=False),
    paper_bgcolor="white", plot_bgcolor="white",
    font=dict(family=FONT, size=26, color="black"),
    **layout,
)

# the page body has a default 8px margin; drop it so the figure sits at the window corner
fig.write_html("out.html", config={"displayModeBar": False},
               post_script="document.body.style.margin='0';")
